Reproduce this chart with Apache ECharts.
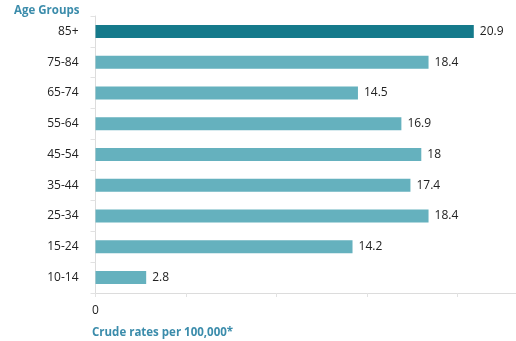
<!DOCTYPE html>
<html>
<head>
<meta charset="utf-8">
<script src="https://cdn.jsdelivr.net/npm/echarts@6/dist/echarts.min.js"></script>
<style>
  html, body { margin: 0; padding: 0; background: #fff; }
  #chart { width: 516px; height: 341px; }
</style>
</head>
<body>
<div id="chart"></div>
<script>
// Age groups, listed bottom to top as drawn on the category axis
var ageGroups = ['10-14', '15-24', '25-34', '35-44', '45-54', '55-64', '65-74', '75-84', '85+'];
// Crude rates per 100,000
var crudeRates = [2.8, 14.2, 18.4, 17.4, 18, 16.9, 14.5, 18.4, 20.9];
// Only the origin of the value axis carries a label
var valueTickLabels = ['0'];

var highlightGroup = '85+';
var darkTeal = '#157a8b';
var lightTeal = '#65b1be';
var titleColor = '#3b8cab';
var font = 'Open Sans';

var chart = echarts.init(document.getElementById('chart'));

chart.setOption({
  animation: false,
  backgroundColor: '#ffffff',
  textStyle: { fontFamily: font },
  title: [
    {
      text: 'Age Groups',
      left: 14, top: 5, padding: 0,
      textStyle: { fontFamily: font, fontSize: 11.5, fontWeight: 'bold', color: titleColor }
    },
    {
      text: 'Crude rates per 100,000*',
      left: 92, top: 327, padding: 0,
      textStyle: { fontFamily: font, fontSize: 11.5, fontWeight: 'bold', color: titleColor }
    }
  ],
  // the value axis runs past the right edge so its last tick falls outside the canvas
  grid: { left: 95.5, width: 452.5, top: 16, bottom: 48, containLabel: false, outerBoundsMode: 'none' },
  xAxis: {
    type: 'value',
    min: 0, max: 25, interval: 5,
    axisLine: { show: true, lineStyle: { color: '#dcdcdc', width: 1 } },
    axisTick: { show: true, length: 4, lineStyle: { color: '#e2e2e2' } },
    splitLine: { show: false },
    axisLabel: {
      margin: 12,
      color: '#222', fontSize: 12, fontFamily: font,
      formatter: function (v) {
        var s = String(v);
        return valueTickLabels.indexOf(s) >= 0 ? s : '';
      }
    }
  },
  yAxis: {
    type: 'category',
    data: ageGroups,
    axisLine: { show: true, lineStyle: { color: '#dcdcdc', width: 1 } },
    axisTick: { show: true, length: 5, lineStyle: { color: '#e2e2e2' } },
    axisLabel: { margin: 17, color: '#222', fontSize: 12, fontFamily: font }
  },
  series: [{
    type: 'bar',
    barWidth: 13,
    data: crudeRates.map(function (v, i) {
      return {
        value: v,
        itemStyle: { color: ageGroups[i] === highlightGroup ? darkTeal : lightTeal }
      };
    }),
    label: {
      show: true,
      position: 'right',
      distance: 6,
      color: '#222',
      fontSize: 12,
      fontFamily: font
    }
  }]
});
</script>
</body>
</html>
